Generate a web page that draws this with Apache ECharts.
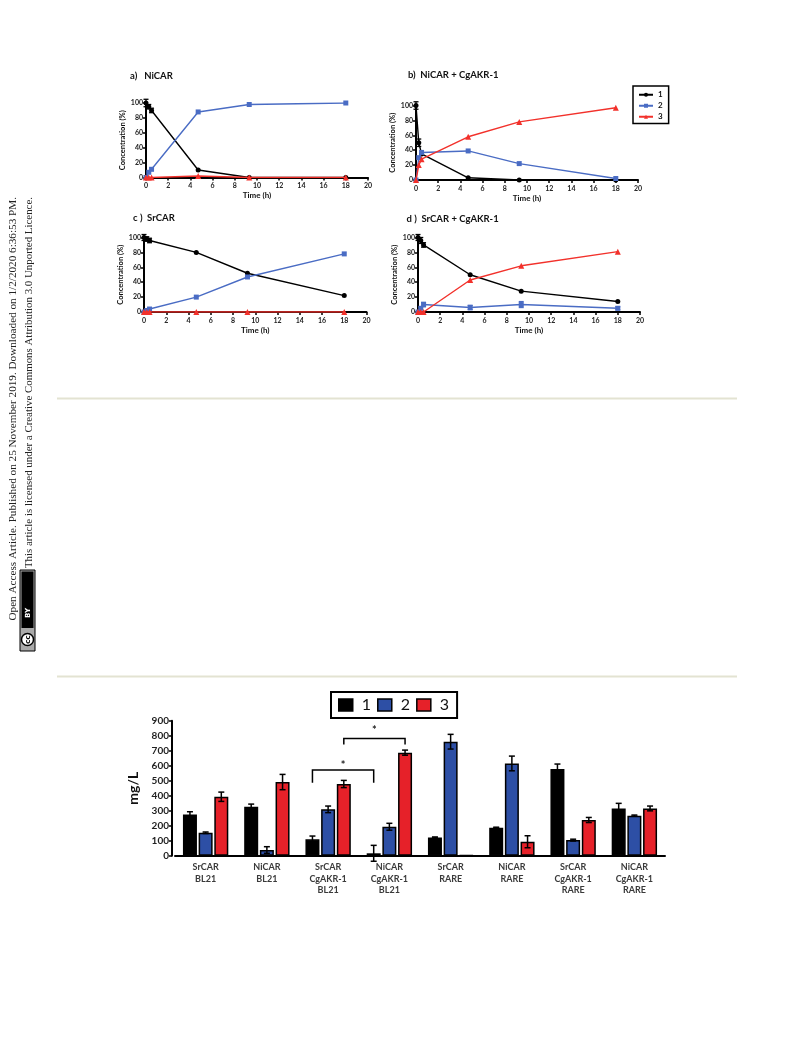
<!DOCTYPE html>
<html><head><meta charset="utf-8">
<script src="https://cdn.jsdelivr.net/npm/echarts@6/dist/echarts.min.js"></script>
<style>html,body{margin:0;padding:0;background:#fff}#c{width:793px;height:1039px}</style>
</head><body><div id="c"></div>
<script>
// ---------- data ----------
const timePoints = [0, 0.25, 0.5, 4.7, 9.3, 18];
const panelTitles = ['a)   NiCAR', 'b)  NiCAR + CgAKR-1', 'c )  SrCAR', 'd )  SrCAR + CgAKR-1'];
const seriesNames = ['1', '2', '3'];

const niCar1 = [100, 95, 90, 10, 0, 0];
const niCar2 = [0, 7, 11, 88, 98, 100];
const niCar3 = [0, 0, 0, 2, 0, 0];
const niCar1Err = [5, 3, 3, 0, 0, 0];

const niAkr1 = [100, 50, 35, 3, 0, 0];
const niAkr2 = [0, 30, 37, 39, 22, 2];
const niAkr3 = [0, 20, 28, 58, 78, 97];
const niAkr1Err = [5, 5, 0, 0, 0, 0];

const srCar1 = [100, 98, 96, 80, 52, 22];
const srCar2 = [0, 2, 4, 20, 47, 78];
const srCar3 = [0, 0, 0, 0, 0, 0];
const srCar1Err = [4, 3, 3, 0, 0, 0];

const srAkr1 = [100, 96, 90, 50, 28, 14];
const srAkr2 = [0, 5, 10, 6, 10, 5];
const srAkr3 = [0, 0, 0, 43, 62, 81];
const srAkr1Err = [4, 4, 3, 0, 0, 0];
const srAkr2Err = [0, 0, 3, 3, 4, 2];

const barCategories = ['SrCAR\nBL21', 'NiCAR\nBL21', 'SrCAR\nCgAKR-1\nBL21', 'NiCAR\nCgAKR-1\nBL21',
  'SrCAR\nRARE', 'NiCAR\nRARE', 'SrCAR\nCgAKR-1\nRARE', 'NiCAR\nCgAKR-1\nRARE'];
const bar1 = [275, 327, 109, 16, 122, 187, 578, 315];
const bar1Err = [18, 17, 22, 53, 3, 3, 33, 34];
const bar2 = [153, 38, 309, 193, 760, 615, 104, 267];
const bar2Err = [5, 22, 22, 23, 49, 49, 6, 4];
const bar3 = [393, 491, 478, 687, 3, 93, 238, 315];
const bar3Err = [31, 51, 24, 17, 0, 40, 17, 16];
// brackets: [cat1, barSlot1, cat2, barSlot2, topValue, legBottomValue, starValue]
const brackets = [[2, -1, 3, -1, 571, 487, 620], [2, 1, 3, 1, 782, 742, 858]];

const sideLine1 = 'Open Access Article. Published on 25 November 2019. Downloaded on 1/2/2020 6:36:53 PM.';
const sideLine2 = 'This article is licensed under a Creative Commons Attribution 3.0 Unported Licence.';

// ---------- styles ----------
const FONT = 'Lato';
const BLACK = '#000', BLUE = '#4a6cc4', RED = '#f2312b';
const BAR_BLUE = '#2d4fa5', BAR_RED = '#e62129';
const lineColors = [BLACK, BLUE, RED];
const lineSymbols = ['circle', 'rect', 'triangle'];
const lineSymbolSizes = [5, 5, 6];
const BAR_W = 14, BAR_GAP = 0.12;
const barStep = BAR_W * (1 + BAR_GAP);

const grids = [
  {left: 146, top: 103, width: 222, height: 74.5},
  {left: 416, top: 105.5, width: 222, height: 74.5},
  {left: 144, top: 237.5, width: 222.5, height: 74.5},
  {left: 418, top: 237.5, width: 222, height: 74.5},
  {left: 175, top: 720.7, width: 490, height: 135}
];

const axisLine = {lineStyle: {color: '#000', width: 2}};
const axisTick = {length: 3, lineStyle: {color: '#000', width: 1.5}};
const tickLabel = {fontFamily: FONT, fontWeight: 'bold', fontSize: 7, color: '#222'};

const xAxes = [], yAxes = [];
for (let i = 0; i < 4; i++) {
  xAxes.push({type: 'value', gridIndex: i, min: 0, max: 20, interval: 2,
    axisLine, axisTick, splitLine: {show: false},
    axisLabel: Object.assign({margin: 5}, tickLabel),
    name: 'Time (h)', nameLocation: 'middle', nameGap: 14,
    nameTextStyle: {fontFamily: FONT, fontWeight: 'bold', fontSize: 8, color: '#111'}});
  yAxes.push({type: 'value', gridIndex: i, min: 0, max: 100, interval: 20,
    axisLine: Object.assign({show: true}, axisLine), axisTick: Object.assign({show: true}, axisTick), splitLine: {show: false},
    axisLabel: Object.assign({margin: 3}, tickLabel),
    name: 'Concentration (%)', nameLocation: 'middle', nameGap: 18,
    nameTextStyle: {fontFamily: FONT, fontWeight: 'bold', fontSize: 7.5, color: '#111'}});
}
xAxes.push({type: 'category', gridIndex: 4, data: barCategories,
  axisLine, axisTick: {alignWithLabel: true, length: 3, lineStyle: {color: '#000', width: 1.5}},
  axisLabel: {interval: 0, fontFamily: FONT, fontWeight: 'bold', fontSize: 9, lineHeight: 11.5, color: '#3a3a3a', margin: 6}});
yAxes.push({type: 'value', gridIndex: 4, min: 0, max: 900, interval: 100, offset: 3,
  axisLine: {show: true, lineStyle: {color: '#000', width: 2}}, axisTick: {show: true, length: 3, lineStyle: {color: '#000', width: 1.5}},
  splitLine: {show: false},
  axisLabel: {fontFamily: FONT, fontWeight: 'bold', fontSize: 10, color: '#222', margin: 3},
  name: 'mg/L', nameLocation: 'middle', nameGap: 21,
  nameTextStyle: {fontFamily: FONT, fontWeight: 'bold', fontSize: 14, color: '#111'}});

const panelData = [
  [niCar1, niCar2, niCar3],
  [niAkr1, niAkr2, niAkr3],
  [srCar1, srCar2, srCar3],
  [srAkr1, srAkr2, srAkr3]
];
const panelErr = [
  [[niCar1, niCar1Err, BLACK]],
  [[niAkr1, niAkr1Err, BLACK]],
  [[srCar1, srCar1Err, BLACK]],
  [[srAkr1, srAkr1Err, BLACK], [srAkr2, srAkr2Err, BLUE]]
];

const series = [];
panelData.forEach((sets, p) => {
  sets.forEach((vals, k) => {
    series.push({type: 'line', name: seriesNames[k], xAxisIndex: p, yAxisIndex: p,
      data: timePoints.map((t, i) => [t, vals[i]]),
      symbol: lineSymbols[k], symbolSize: lineSymbolSizes[k],
      itemStyle: {color: lineColors[k]}, lineStyle: {color: lineColors[k], width: 1.4},
      z: 3 + k, animation: false});
  });
});
panelErr.forEach((list, p) => {
  list.forEach(([vals, errs, color]) => {
    series.push({type: 'custom', xAxisIndex: p, yAxisIndex: p, z: 8, animation: false,
      data: timePoints.map((t, i) => [t, vals[i], errs[i]]).filter(d => d[2] > 0),
      renderItem: (params, api) => {
        const t = api.value(0), v = api.value(1), e = api.value(2);
        const a = api.coord([t, v + e]), b = api.coord([t, v - e]);
        const w = 2.5;
        return {type: 'group', children: [
          {type: 'line', shape: {x1: a[0], y1: a[1], x2: b[0], y2: b[1]}, style: {stroke: color, lineWidth: 1.3}},
          {type: 'line', shape: {x1: a[0] - w, y1: a[1], x2: a[0] + w, y2: a[1]}, style: {stroke: color, lineWidth: 1.3}},
          {type: 'line', shape: {x1: b[0] - w, y1: b[1], x2: b[0] + w, y2: b[1]}, style: {stroke: color, lineWidth: 1.3}}
        ]};
      }});
  });
});

const barSets = [[bar1, bar1Err, BLACK], [bar2, bar2Err, BAR_BLUE], [bar3, bar3Err, BAR_RED]];
barSets.forEach(([vals, errs, color], k) => {
  series.push({type: 'bar', name: seriesNames[k], xAxisIndex: 4, yAxisIndex: 4, data: vals,
    barWidth: BAR_W, barGap: (BAR_GAP * 100) + '%',
    itemStyle: {color, borderColor: '#000', borderWidth: 1.5}, animation: false});
});
barSets.forEach(([vals, errs, color], k) => {
  series.push({type: 'custom', xAxisIndex: 4, yAxisIndex: 4, z: 9, animation: false,
    data: vals.map((v, i) => [i, v, errs[i]]).filter(d => d[2] > 0),
    renderItem: (params, api) => {
      const c = api.value(0), v = api.value(1), e = api.value(2);
      const a = api.coord([c, v + e]), b = api.coord([c, v - e]);
      const x = a[0] + (k - 1) * barStep, w = 3;
      const st = {stroke: '#000', lineWidth: 1.5};
      return {type: 'group', children: [
        {type: 'line', shape: {x1: x, y1: a[1], x2: x, y2: b[1]}, style: st},
        {type: 'line', shape: {x1: x - w, y1: a[1], x2: x + w, y2: a[1]}, style: st},
        {type: 'line', shape: {x1: x - w, y1: b[1], x2: x + w, y2: b[1]}, style: st}
      ]};
    }});
});
series.push({type: 'custom', xAxisIndex: 4, yAxisIndex: 4, z: 10, animation: false, data: brackets,
  renderItem: (params, api) => {
    const c1 = api.value(0), s1 = api.value(1), c2 = api.value(2), s2 = api.value(3);
    const top = api.value(4), bot = api.value(5), star = api.value(6);
    const p1 = api.coord([c1, top]), p2 = api.coord([c2, top]), pb = api.coord([c1, bot]), ps = api.coord([c1, star]);
    const x1 = p1[0] + s1 * barStep, x2 = p2[0] + s2 * barStep;
    return {type: 'group', children: [
      {type: 'polyline', shape: {points: [[x1, pb[1]], [x1, p1[1]], [x2, p1[1]], [x2, pb[1]]]},
        style: {stroke: '#000', lineWidth: 1.5, fill: null}},
      {type: 'text', x: (x1 + x2) / 2, y: ps[1] + 3,
        style: {text: '*', fontFamily: FONT, fontSize: 11, fontWeight: 'bold', fill: '#222', align: 'center', verticalAlign: 'middle'}}
    ]};
  }});

const titlePos = [[130, 71], [408, 69.5], [133, 213], [406.5, 214]];
const titles = panelTitles.map((t, i) => ({text: t, left: titlePos[i][0], top: titlePos[i][1], padding: 0,
  textStyle: {fontFamily: FONT, fontWeight: 'bold', fontSize: 9.5, color: '#111'}}));

const chart = echarts.init(document.getElementById('c'), null, {renderer: 'canvas'});
chart.setOption({
  backgroundColor: '#fff',
  animation: false,
  title: titles,
  grid: grids,
  xAxis: xAxes,
  yAxis: yAxes,
  legend: [
    {orient: 'vertical', left: 633, top: 86, selectedMode: false,
      data: seriesNames, itemWidth: 14, itemHeight: 5, itemGap: 1.5,
      padding: [4, 6, 2, 5], borderColor: '#000', borderWidth: 1.5,
      textStyle: {fontFamily: FONT, fontWeight: 'bold', fontSize: 8, lineHeight: 9.5, color: '#111'}},
    {orient: 'horizontal', left: 331, top: 692, selectedMode: false,
      data: seriesNames.map((n, k) => ({name: n, icon: 'rect',
        itemStyle: {color: [BLACK, BAR_BLUE, BAR_RED][k], borderColor: '#000', borderWidth: 1.5}})),
      itemWidth: 14, itemHeight: 12, itemGap: 6,
      padding: [5, 8, 5, 7], borderColor: '#000', borderWidth: 2,
      textStyle: {fontFamily: FONT, fontSize: 16, color: '#111', padding: [0, 0, 0, 4]}}
  ],
  graphic: [
    {type: 'line', shape: {x1: 57, y1: 398.5, x2: 737, y2: 398.5}, style: {stroke: '#e3e3d2', lineWidth: 2}},
    {type: 'line', shape: {x1: 57, y1: 676.5, x2: 737, y2: 676.5}, style: {stroke: '#e3e3d2', lineWidth: 2}},
    {type: 'text', x: 13, y: 197, rotation: Math.PI / 2,
      style: {text: sideLine1, fontFamily: 'Liberation Serif', fontSize: 11.2, fill: '#222', align: 'right', verticalAlign: 'middle'}},
    {type: 'text', x: 29, y: 197, rotation: Math.PI / 2,
      style: {text: sideLine2, fontFamily: 'Liberation Serif', fontSize: 10.9, fill: '#222', align: 'right', verticalAlign: 'middle'}},
    {type: 'group', x: 20, y: 651, rotation: Math.PI / 2, children: [
      {type: 'rect', shape: {x: 0, y: 0, width: 81, height: 15}, style: {fill: '#aaa', stroke: '#000', lineWidth: 1}},
      {type: 'rect', shape: {x: 23, y: 1.5, width: 56.5, height: 12}, style: {fill: '#000'}},
      {type: 'circle', shape: {cx: 11.5, cy: 7.5, r: 6}, style: {fill: '#fff', stroke: '#000', lineWidth: 1.5}},
      {type: 'text', x: 11.5, y: 7.8, style: {text: 'cc', fontFamily: 'DejaVu Sans', fontWeight: 'bold', fontSize: 7, fill: '#000', align: 'center', verticalAlign: 'middle'}},
      {type: 'text', x: 38, y: 7.8, style: {text: 'BY', fontFamily: 'DejaVu Sans', fontWeight: 'bold', fontSize: 7, fill: '#fff', align: 'center', verticalAlign: 'middle'}}
    ]}
  ],
  series
});
</script></body></html>
